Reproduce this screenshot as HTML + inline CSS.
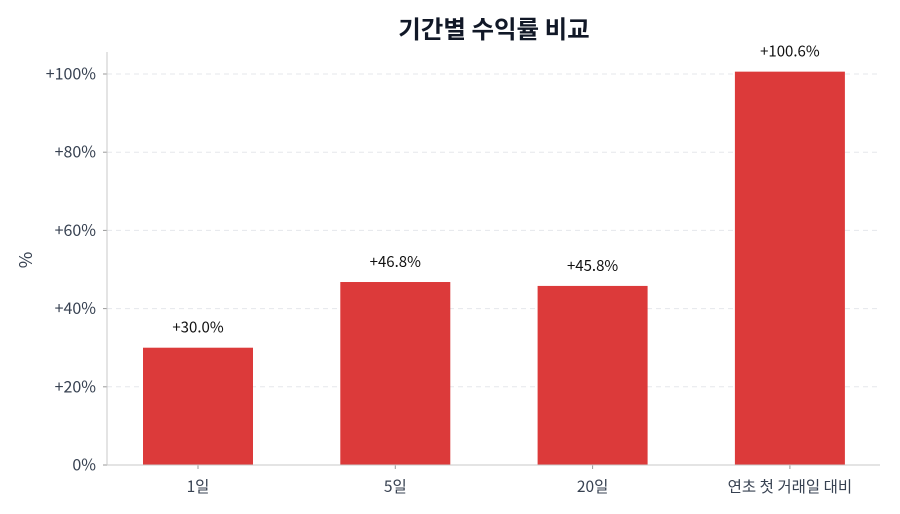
<!DOCTYPE html>
<html><head><meta charset="utf-8"><style>
body{margin:0;background:#fff;}
svg{display:block;font-family:"Noto Sans CJK KR","Liberation Sans",sans-serif;}
</style></head><body>
<svg id="chart" width="900" height="514" viewBox="0 0 900 514"></svg>
<script>
const categories = ["1일","5일","20일","연초 첫 거래일 대비"];
const values = [30.0, 46.8, 45.8, 100.6];
const labels = ["+30.0%","+46.8%","+45.8%","+100.6%"];
const yTicks = [0,20,40,60,80,100];
const yTickLabels = ["0%","+20%","+40%","+60%","+80%","+100%"];

const NS="http://www.w3.org/2000/svg";
const svg=document.getElementById('chart');
const x0=107,x1=880,yBase=465,yTopPx=74;
const y=v=>yBase-(v/100)*(yBase-yTopPx);
const xc=i=>198+i*197.3;
const bw=110;
function mk(tag,attrs,text){const e=document.createElementNS(NS,tag);for(const k in attrs)e.setAttribute(k,attrs[k]);if(text!==undefined)e.textContent=text;svg.appendChild(e);return e;}

let t=mk('text',{x:494,y:38,'text-anchor':'middle','font-size':24.5,'font-weight':'bold',fill:'#111827'},'기간별 수익률 비교');



yTicks.forEach((v,i)=>{
  if(v>0){const g=mk('line',{x1:x0,x2:x1,y1:y(v),y2:y(v),stroke:'#e5e7eb','stroke-dasharray':'5,4','stroke-width':1});
  
  }
  const tk=mk('line',{x1:x0-4,x2:x0,y1:y(v),y2:y(v),stroke:'#999'});
  
  
  const l=mk('text',{x:x0-11,y:y(v)+5.5,'text-anchor':'end','font-size':16,fill:'#374151'},yTickLabels[i]);
  
  
});

categories.forEach((c,i)=>{
  const b=mk('rect',{x:xc(i)-bw/2,y:y(values[i]),width:bw,height:yBase-y(values[i]),fill:'#dc3a3a'});
  
  
  const v=mk('text',{x:xc(i),y:y(values[i])-15,'text-anchor':'middle','font-size':15,fill:'#111'},labels[i]);
  
  
  const tk=mk('line',{x1:xc(i),x2:xc(i),y1:yBase,y2:yBase+4,stroke:'#999'});
  
  
  const l=mk('text',{x:xc(i),y:yBase+27,'text-anchor':'middle','font-size':15.5,fill:'#374151'},c);
  
  
});

const ya=mk('line',{x1:x0,x2:x0,y1:52,y2:yBase,stroke:'#c8c8c8'});


const xa=mk('line',{x1:x0,x2:x1,y1:yBase,y2:yBase,stroke:'#c8c8c8'});


const yt=mk('text',{x:32,y:260,'text-anchor':'middle','font-size':18,fill:'#374151',transform:'rotate(-90 32 260)'},'%');


</script>
</body></html>
